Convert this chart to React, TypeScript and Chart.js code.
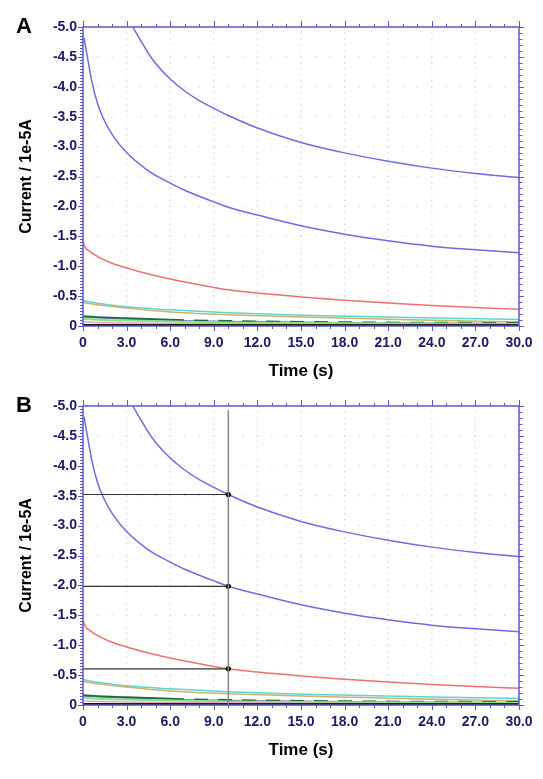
import React, { useEffect, useRef } from 'react';
import { Chart, registerables } from 'chart.js';

Chart.register(...registerables);

// ---------------- data ----------------
const X_MIN = 0;
const X_MAX = 30;
const X_STEP = 3;
const Y_MIN = -5;
const Y_MAX = 0;
const Y_STEP = 0.5;

const TIME_TOP = [3.43, 4, 4.5, 5, 6, 7, 8, 9, 10, 12, 15, 18, 21, 24, 27, 30];
const CURRENT_TOP = [-5.0, -4.76, -4.56, -4.39, -4.13, -3.93, -3.77, -3.64, -3.52, -3.31, -3.07, -2.895, -2.755, -2.64, -2.55, -2.48];

const TIME_SECOND = [0.07, 0.3, 0.6, 1.0, 1.4, 2.09, 3, 4.4, 5, 6, 7, 8, 9, 10, 12, 15, 18, 21, 24, 27, 30];
const CURRENT_SECOND = [-4.82, -4.5, -4.1, -3.72, -3.47, -3.17, -2.9, -2.61, -2.52, -2.39, -2.27, -2.17, -2.075, -1.985, -1.855, -1.675, -1.535, -1.425, -1.335, -1.275, -1.225];

const TIME_RED = [0, 0.15, 0.5, 1.17, 2, 3, 4.5, 6, 9, 10, 12, 15, 18, 21, 24, 27, 30];
const CURRENT_RED = [-1.41, -1.32, -1.24, -1.14, -1.05, -0.97, -0.87, -0.785, -0.645, -0.605, -0.55, -0.485, -0.432, -0.384, -0.344, -0.31, -0.28];

const TIME_LOW = [0, 0.3, 1, 3, 6, 10, 15, 20, 25, 30];
const CURRENT_CYAN = [-0.43, -0.41, -0.38, -0.32, -0.27, -0.22, -0.18, -0.155, -0.13, -0.11];
const CURRENT_OLIVE = [-0.4, -0.38, -0.355, -0.3, -0.235, -0.19, -0.15, -0.12, -0.09, -0.07];
const CURRENT_PURPLE = [-0.15, -0.145, -0.135, -0.115, -0.095, -0.078, -0.064, -0.054, -0.047, -0.042];
const CURRENT_DKGREEN = [-0.17, -0.16, -0.15, -0.13, -0.105, -0.085, -0.07, -0.06, -0.055, -0.05];
const CURRENT_LTGREEN = [-0.12, -0.115, -0.105, -0.09, -0.075, -0.06, -0.05, -0.045, -0.04, -0.035];
const CURRENT_PINK = [-0.07, -0.066, -0.06, -0.05, -0.042, -0.036, -0.03, -0.026, -0.023, -0.02];
const CURRENT_MAROON = [-0.025, -0.024, -0.022, -0.02, -0.018, -0.016, -0.015, -0.014, -0.013, -0.012];
const CURRENT_BLACK = [-0.008, -0.008, -0.008, -0.008, -0.008, -0.008, -0.008, -0.008, -0.008, -0.008];

const CROSS_TIME = 10;
const CROSS_TOP = -4.93;
const CROSS_CURRENTS = [-3.52, -1.985, -0.605];

// ---------------- styles ----------------
const FONT = "'Liberation Sans', Arial, Helvetica, sans-serif";
const AXIS_COLOR = '#5a5ac8';
const TICK_LABEL_COLOR = '#1a1a66';
const GRID_DOT = '#d0d0dc';

const zip = (xs: number[], ys: number[]) => xs.map((x, i) => ({ x, y: ys[i] }));

function curve(xs: number[], ys: number[], color: string, width = 1.5, extra: any = {}) {
  return {
    data: zip(xs, ys),
    borderColor: color,
    backgroundColor: color,
    borderWidth: width,
    pointRadius: 0,
    showLine: true,
    cubicInterpolationMode: 'monotone',
    ...extra,
  };
}

const fmt = (v: number) => (Math.abs(v) < 1e-9 ? '0' : v.toFixed(1));

function axesPlugin(panel: string) {
  return {
    id: 'axes' + panel,
    beforeDatasetsDraw(chart: any) {
      const { ctx } = chart;
      const xs = chart.scales.x;
      const ys = chart.scales.y;
      ctx.save();
      ctx.fillStyle = GRID_DOT;
      for (let i = 1; i < (X_MAX - X_MIN) / X_STEP; i++) {
        const px = xs.getPixelForValue(X_MIN + i * X_STEP);
        for (let j = 1; j < 50; j++) {
          const py = ys.getPixelForValue(Y_MIN + j * 0.1);
          ctx.fillRect(px - 0.6, py - 0.6, 1.2, 1.2);
        }
      }
      for (let j = 1; j < (Y_MAX - Y_MIN) / Y_STEP; j++) {
        const py = ys.getPixelForValue(Y_MIN + j * Y_STEP);
        for (let i = 1; i < 30; i++) {
          const px = xs.getPixelForValue(X_MIN + i);
          ctx.fillRect(px - 0.6, py - 0.6, 1.2, 1.2);
        }
      }
      ctx.restore();
    },
    afterDatasetsDraw(chart: any) {
      const { ctx, chartArea } = chart;
      const { left, right, top, bottom } = chartArea;
      const xs = chart.scales.x;
      const ys = chart.scales.y;
      ctx.save();
      ctx.strokeStyle = AXIS_COLOR;
      ctx.lineWidth = 1;
      ctx.beginPath();
      for (let i = 0; i <= 30; i++) {
        const px = Math.round(xs.getPixelForValue(X_MIN + i)) + 0.5;
        const major = i % 3 === 0;
        ctx.moveTo(px, bottom);
        ctx.lineTo(px, bottom + (major ? 5 : 3));
        ctx.moveTo(px, top);
        ctx.lineTo(px, top - (major ? 6 : 3));
      }
      for (let j = 0; j <= 100; j++) {
        const py = Math.round(ys.getPixelForValue(Y_MIN + j * 0.05)) + 0.5;
        const major = j % 10 === 0;
        ctx.moveTo(left, py);
        ctx.lineTo(left - (major ? 5 : 3), py);
      }
      for (let j = 0; j <= 50; j++) {
        const py = Math.round(ys.getPixelForValue(Y_MIN + j * 0.1)) + 0.5;
        const major = j % 5 === 0;
        ctx.moveTo(right, py);
        ctx.lineTo(right + (major ? 5 : 3.5), py);
      }
      ctx.stroke();
      ctx.lineWidth = 1.5;
      ctx.strokeRect(left, top, right - left, bottom - top);
      ctx.restore();
    },
    afterDraw(chart: any) {
      const { ctx } = chart;
      ctx.save();
      ctx.fillStyle = '#000';
      ctx.font = `bold 22px ${FONT}`;
      ctx.textBaseline = 'alphabetic';
      ctx.fillText(panel, 16, 33);
      ctx.restore();
    },
  };
}

function makeConfig(panel: string): any {
  const datasets: any[] = [];
  if (panel === 'B') {
    datasets.push({
      data: [{ x: CROSS_TIME, y: CROSS_TOP }, { x: CROSS_TIME, y: Y_MAX }],
      borderColor: '#858585',
      borderWidth: 1.5,
      pointRadius: 0,
      showLine: true,
    });
    CROSS_CURRENTS.forEach((v) => {
      datasets.push({
        data: [{ x: X_MIN, y: v }, { x: CROSS_TIME, y: v }],
        borderColor: '#333',
        backgroundColor: '#000',
        borderWidth: 1.2,
        pointRadius: [0, 2.6],
        pointBorderWidth: 0,
        showLine: true,
      });
    });
  }
  datasets.push(
    curve(TIME_TOP, CURRENT_TOP, '#6c6ce4'),
    curve(TIME_SECOND, CURRENT_SECOND, '#6c6ce4'),
    curve(TIME_RED, CURRENT_RED, '#ef6f6f'),
    curve(TIME_LOW, CURRENT_BLACK, '#000000', 2.5),
    curve(TIME_LOW, CURRENT_MAROON, '#8a2b2b', 1.2),
    curve(TIME_LOW, CURRENT_PINK, '#e3a6c0', 1.5),
    curve(TIME_LOW, CURRENT_LTGREEN, '#86e486', 2),
    curve(TIME_LOW, CURRENT_DKGREEN, '#1f6b3f', 1.8, {
      segment: { borderDash: (c: any) => (c.p0.parsed.x >= 6 ? [14, 10] : undefined) },
    }),
    curve(TIME_LOW, CURRENT_PURPLE, '#7d78c4', 1.2),
    curve(TIME_LOW, CURRENT_OLIVE, '#c9b46a', 1.5),
    curve(TIME_LOW, CURRENT_CYAN, '#5fd3d8', 1.5),
  );

  return {
    type: 'scatter',
    data: { datasets },
    options: {
      responsive: false,
      animation: false,
      devicePixelRatio: 1,
      layout: { padding: { top: 27, right: 24, left: 0, bottom: 0 } },
      plugins: { legend: { display: false }, tooltip: { enabled: false } },
      scales: {
        x: {
          type: 'linear',
          position: 'bottom',
          min: X_MIN,
          max: X_MAX,
          grid: { display: false, drawTicks: false },
          border: { display: false },
          ticks: {
            stepSize: X_STEP,
            autoSkip: false,
            maxRotation: 0,
            padding: 9,
            color: TICK_LABEL_COLOR,
            font: { family: FONT, size: 14, weight: 'bold' },
            callback: (v: number) => fmt(v),
          },
          title: {
            display: true,
            text: 'Time (s)',
            color: '#000',
            font: { family: FONT, size: 17, weight: 'bold' },
            padding: { top: 0, bottom: 18 },
          },
          afterFit: (s: any) => {
            s.height = 74;
          },
        },
        y: {
          type: 'linear',
          min: Y_MIN,
          max: Y_MAX,
          reverse: true,
          grid: { display: false, drawTicks: false },
          border: { display: false },
          ticks: {
            stepSize: Y_STEP,
            padding: 6,
            color: TICK_LABEL_COLOR,
            font: { family: FONT, size: 14, weight: 'bold' },
            callback: (v: number) => fmt(v),
          },
          title: {
            display: true,
            text: 'Current / 1e-5A',
            color: '#000',
            font: { family: FONT, size: 16, weight: 'bold' },
            padding: { top: 17, bottom: 0 },
          },
          afterFit: (s: any) => {
            s.width = 83;
          },
        },
      },
    },
    plugins: [axesPlugin(panel)],
  };
}

export default function App() {
  const refA = useRef<HTMLCanvasElement>(null);
  const refB = useRef<HTMLCanvasElement>(null);
  useEffect(() => {
    const a = new Chart(refA.current as HTMLCanvasElement, makeConfig('A'));
    const b = new Chart(refB.current as HTMLCanvasElement, makeConfig('B'));
    return () => {
      a.destroy();
      b.destroy();
    };
  }, []);
  return (
    <div style={{ position: 'absolute', left: 0, top: 0, width: 543, height: 779, background: '#fff', overflow: 'hidden' }}>
      <canvas ref={refA} width={543} height={400} style={{ position: 'absolute', left: 0, top: 0, width: 543, height: 400 }} />
      <canvas ref={refB} width={543} height={400} style={{ position: 'absolute', left: 0, top: 379, width: 543, height: 400 }} />
    </div>
  );
}
